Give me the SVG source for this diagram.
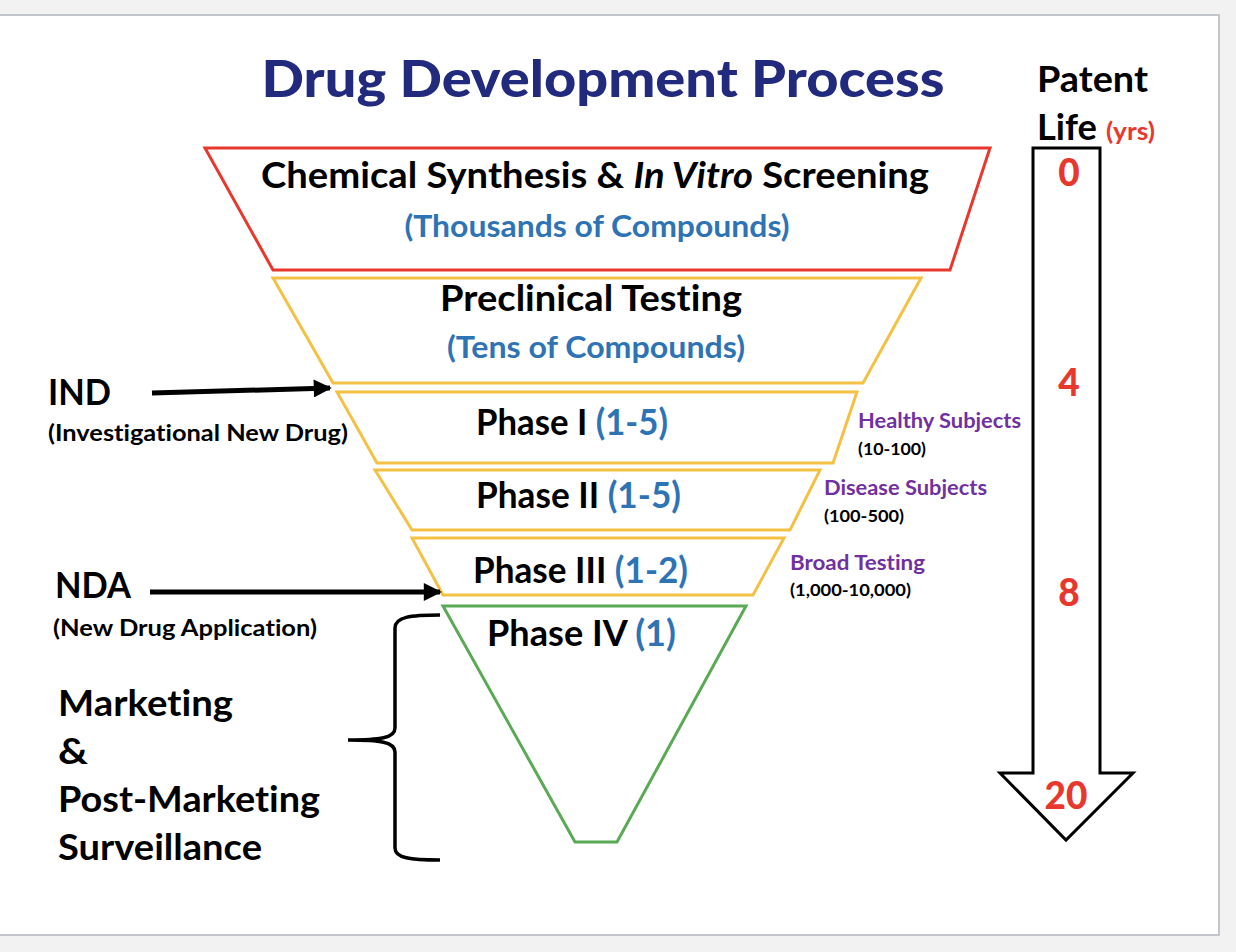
<svg xmlns="http://www.w3.org/2000/svg" width="1236" height="952" viewBox="0 0 1236 952">
<defs>
<style>
text{font-family:Lato,"Open Sans","Liberation Sans",sans-serif;font-weight:bold;font-variant-ligatures:none}
.blk{fill:#000}
.blue{fill:#2e74b5}
.pur{fill:#7030a0}
.red{fill:#e8382d}
.funnel{fill:#fff;stroke-width:3;stroke-linejoin:miter}
.conn{stroke:#000;stroke-width:5;fill:none}
</style>
<marker id="ah" viewBox="0 0 10 10" refX="9" refY="5" markerWidth="4" markerHeight="3.6" orient="auto" markerUnits="strokeWidth">
<path d="M0,0 L10,5 L0,10 z" fill="#000"/>
</marker>
</defs>
<rect x="0" y="0" width="1236" height="952" fill="#f2f2f2"/>
<rect x="-5" y="15" width="1224" height="920" fill="#fff" stroke="#c2c5c9" stroke-width="2"/>

<g id="title">
<text x="603" y="97" font-size="52" fill="#222a7e" text-anchor="middle" textLength="683" lengthAdjust="spacingAndGlyphs" style="font-weight:900">Drug Development Process</text>
</g>

<g id="stage-synthesis">
<polygon class="funnel" stroke="#e8382d" points="205,148 990,148 950,270 273,270"/>
<text x="595" y="188" font-size="37" class="blk" text-anchor="middle" textLength="668" lengthAdjust="spacingAndGlyphs">Chemical Synthesis &amp; <tspan font-style="italic">In Vitro</tspan> Screening</text>
<text x="597" y="237" font-size="30" class="blue" text-anchor="middle" textLength="385" lengthAdjust="spacingAndGlyphs">(Thousands of Compounds)</text>
</g>

<g id="stage-preclinical">
<polygon class="funnel" stroke="#f4c145" points="273,278 921,278 863,383 333,383"/>
<text x="591" y="311" font-size="37" class="blk" text-anchor="middle" textLength="302" lengthAdjust="spacingAndGlyphs">Preclinical Testing</text>
<text x="596" y="358" font-size="30" class="blue" text-anchor="middle" textLength="298" lengthAdjust="spacingAndGlyphs">(Tens of Compounds)</text>
</g>

<g id="stage-phase1">
<polygon class="funnel" stroke="#f4c145" points="337,392 857,392 833,463 377,463"/>
<text x="476" y="435" font-size="36" class="blk" textLength="192" lengthAdjust="spacingAndGlyphs">Phase I <tspan class="blue">(1-5)</tspan></text>
</g>

<g id="stage-phase2">
<polygon class="funnel" stroke="#f4c145" points="375,470 820,470 790,530 412,530"/>
<text x="476" y="508" font-size="36" class="blk" textLength="205" lengthAdjust="spacingAndGlyphs">Phase II <tspan class="blue">(1-5)</tspan></text>
</g>

<g id="stage-phase3">
<polygon class="funnel" stroke="#f4c145" points="412,538 784,538 753,595 443,595"/>
<text x="473" y="583" font-size="36" class="blk" textLength="215" lengthAdjust="spacingAndGlyphs">Phase III <tspan class="blue">(1-2)</tspan></text>
</g>

<g id="stage-phase4">
<polygon class="funnel" stroke="#5aaa55" points="443,606 746,606 617,842 575,842"/>
<text x="487" y="646" font-size="36" class="blk" textLength="189" lengthAdjust="spacingAndGlyphs">Phase IV <tspan class="blue">(1)</tspan></text>
</g>

<g id="label-ind">
<text x="48" y="405" font-size="36" class="blk" textLength="63" lengthAdjust="spacingAndGlyphs">IND</text>
<text x="48" y="441" font-size="23" class="blk" textLength="300" lengthAdjust="spacingAndGlyphs">(Investigational New Drug)</text>
</g>

<g id="label-nda">
<text x="55" y="598" font-size="36" class="blk" textLength="76" lengthAdjust="spacingAndGlyphs">NDA</text>
<text x="53" y="636" font-size="23" class="blk" textLength="264" lengthAdjust="spacingAndGlyphs">(New Drug Application)</text>
</g>

<g id="label-subjects">
<text x="858" y="428" font-size="21" class="pur" textLength="163" lengthAdjust="spacingAndGlyphs">Healthy Subjects</text>
<text x="858" y="455" font-size="17" class="blk" textLength="68" lengthAdjust="spacingAndGlyphs">(10-100)</text>
<text x="824" y="495" font-size="21" class="pur" textLength="163" lengthAdjust="spacingAndGlyphs">Disease Subjects</text>
<text x="824" y="522" font-size="17" class="blk" textLength="80" lengthAdjust="spacingAndGlyphs">(100-500)</text>
<text x="790" y="570" font-size="21" class="pur" textLength="135" lengthAdjust="spacingAndGlyphs">Broad Testing</text>
<text x="790" y="596" font-size="17" class="blk" textLength="121" lengthAdjust="spacingAndGlyphs">(1,000-10,000)</text>
</g>

<g id="label-marketing">
<text x="58" y="716" font-size="37" class="blk" textLength="175" lengthAdjust="spacingAndGlyphs">Marketing</text>
<text x="58" y="764" font-size="37" class="blk" textLength="30" lengthAdjust="spacingAndGlyphs">&amp;</text>
<text x="58" y="812" font-size="37" class="blk" textLength="262" lengthAdjust="spacingAndGlyphs">Post-Marketing</text>
<text x="58" y="860" font-size="37" class="blk" textLength="204" lengthAdjust="spacingAndGlyphs">Surveillance</text>
</g>

<g id="patent-life">
<text x="1037" y="92" font-size="36" class="blk" textLength="111" lengthAdjust="spacingAndGlyphs">Patent</text>
<text x="1037" y="140" font-size="36" class="blk" textLength="60" lengthAdjust="spacingAndGlyphs">Life</text>
<text x="1106" y="140" font-size="24" class="red" textLength="49" lengthAdjust="spacingAndGlyphs">(yrs)</text>
<path d="M1033,148 L1100,148 L1100,773 L1133,773 L1066,840 L1000,773 L1033,773 Z" fill="#fff" stroke="#000" stroke-width="3" stroke-linejoin="miter"/>
<text x="1069" y="186" font-size="37" class="red" text-anchor="middle" style="font-weight:900">0</text>
<text x="1069" y="396" font-size="37" class="red" text-anchor="middle" style="font-weight:900">4</text>
<text x="1069" y="606" font-size="37" class="red" text-anchor="middle" style="font-weight:900">8</text>
<text x="1066" y="809" font-size="37" class="red" text-anchor="middle" style="font-weight:900">20</text>
</g>

<g id="connectors">
<line class="conn" x1="152" y1="393" x2="330" y2="388" marker-end="url(#ah)"/>
<line class="conn" x1="150" y1="592" x2="440" y2="592" marker-end="url(#ah)"/>
<path d="M440,615 C410,615 395,617 395,628 L395,728 C395,738 380,740 348,740 C380,740 395,742 395,752 L395,848 C395,858 410,860 440,860" fill="none" stroke="#000" stroke-width="3.5"/>
</g>
</svg>
